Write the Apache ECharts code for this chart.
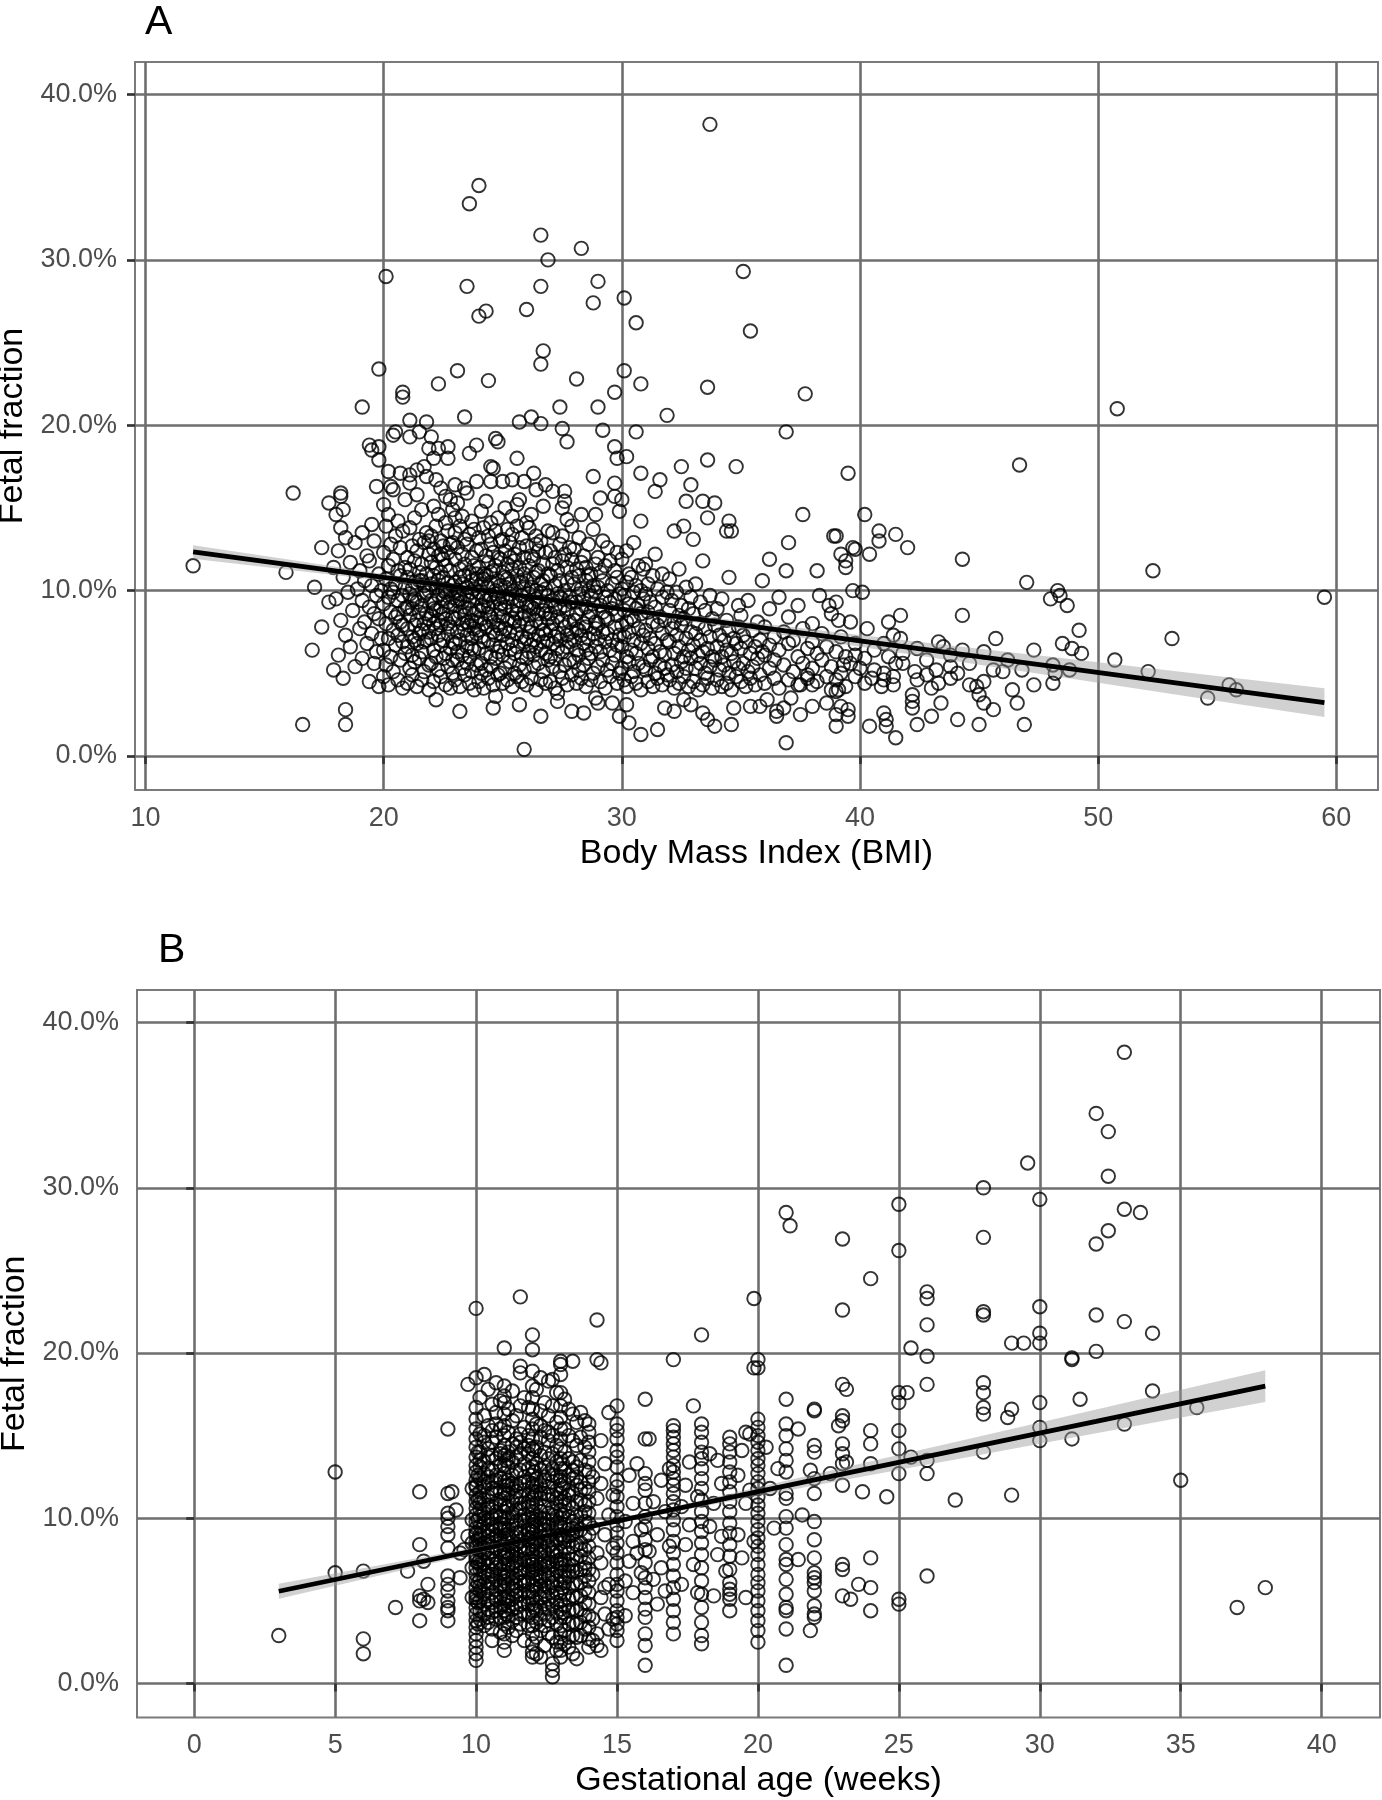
<!DOCTYPE html>
<html><head><meta charset="utf-8">
<script src="https://cdn.jsdelivr.net/npm/echarts@6/dist/echarts.min.js"></script>
<style>html,body{margin:0;padding:0;background:#fff}#c{width:1382px;height:1800px}</style>
</head><body><div id="c"></div>
<script>
// ---------- tick labels ----------
const bmiTicks = [10, 20, 30, 40, 50, 60];
const gaTicks = [0, 5, 10, 15, 20, 25, 30, 35, 40];
const ffTicks = [0, 10, 20, 30, 40];

// ---------- Panel A: BMI vs fetal fraction (%) ----------
// [BMI, [fetal fraction values at that BMI]]
const bmiGroups = [
[17.1,[10.2]],[17.4,[7.8,12.6]],[17.7,[9.3]],[17.9,[5.2,11.4]],
[18.0,[9.5]],[18.1,[6.1,12.4]],[18.2,[8.2]],[18.3,[10.8,4.7]],[18.4,[7.3,13.2]],[18.5,[9.9]],[18.6,[11.7,6.6]],[18.7,[8.8]],[18.8,[12.9,5.4]],[18.9,[10.1]],
[19.0,[7.7,11.2]],[19.1,[9.4,5.9,13.5]],[19.2,[10.6,8.1]],[19.3,[6.8,12.1]],[19.4,[9.0,4.5,11.8]],[19.5,[7.4,10.3]],[19.6,[8.6,13.0,5.6]],[19.7,[9.7,6.3]],[19.8,[11.0,8.3,4.2]],[19.9,[10.0,7.1]],
[20.0,[9.2,6.4,12.3,4.8,15.2]],[20.1,[8.0,10.7,5.5,13.9]],[20.2,[7.1,11.5,9.6,4.3,14.6]],[20.3,[8.7,6.0,12.8,10.1]],[20.4,[9.9,7.6,5.1,11.9,16.1]],[20.5,[8.4,13.3,6.7,10.4]],[20.6,[7.3,9.4,11.2,4.6,14.2]],[20.7,[10.9,8.1,5.8,12.6]],[20.8,[6.9,9.7,13.6,7.9,4.1]],[20.9,[11.4,8.9,6.2,10.2,15.5]],
[21.0,[9.0,6.6,12.0,4.4,10.8,7.7]],[21.1,[8.5,11.3,5.3,13.8,9.8,16.5]],[21.2,[7.2,10.1,6.1,12.7,8.9,4.9]],[21.3,[9.5,11.8,7.9,14.4,5.7,10.5]],[21.4,[8.2,6.8,12.4,9.3,4.2,15.8]],[21.5,[10.6,7.4,13.1,8.7,5.9,11.1]],[21.6,[9.1,6.3,11.6,7.6,14.9,4.6]],[21.7,[10.3,8.0,12.9,5.1,9.7,6.9]],[21.8,[8.6,11.0,7.0,13.5,9.9,16.9]],[21.9,[7.5,10.0,5.5,12.2,8.3,4.0]],
[22.0,[9.4,7.1,11.7,5.6,13.3,8.5,10.4]],[22.1,[8.0,12.5,6.4,10.9,4.5,15.1,9.2]],[22.2,[7.7,10.2,13.9,6.0,11.4,8.8,3.4]],[22.3,[9.7,5.2,12.1,7.3,10.6,14.6,8.2]],[22.4,[11.1,6.7,9.0,13.0,4.8,7.9,16.2]],[22.5,[8.6,10.8,5.9,12.7,9.5,7.0,11.9]],[22.6,[10.1,6.2,8.3,14.1,4.3,11.5,9.9]],[22.7,[7.4,12.3,9.3,5.4,10.5,13.6,8.0]],[22.8,[9.0,6.5,11.2,7.8,15.5,10.0,4.1]],[22.9,[8.4,12.9,6.9,10.3,5.0,9.6,14.9]],
[23.0,[9.1,6.8,11.9,4.6,13.5,8.3,10.5]],[23.1,[7.5,10.0,12.6,5.8,9.4,15.3,6.3]],[23.2,[8.7,11.3,4.2,13.9,7.0,10.8,9.8]],[23.3,[6.1,9.3,12.2,8.0,5.3,14.5,10.4]],[23.4,[10.9,7.6,9.0,13.1,4.9,11.6,8.5]],[23.5,[6.6,12.8,9.7,7.3,10.2,5.6,15.9]],[23.6,[8.9,11.1,6.0,13.4,9.4,4.4,7.9]],[23.7,[10.6,7.1,12.0,8.2,5.1,14.2,9.9]],[23.8,[6.4,11.5,8.6,10.1,13.7,4.0,7.7]],[23.9,[9.5,12.4,7.4,5.5,10.7,8.1,16.6]],
[24.0,[8.8,6.5,11.4,4.5,13.2,9.9,7.6]],[24.1,[10.4,7.2,12.5,5.6,9.1,14.8,8.3]],[24.2,[6.9,11.0,9.6,4.1,13.8,8.0,10.7]],[24.3,[7.8,12.1,5.2,9.4,10.9,6.2,15.4]],[24.4,[9.0,11.7,7.0,13.3,4.7,8.6,10.2]],[24.5,[6.0,10.5,8.4,12.8,5.4,9.7,14.1]],[24.6,[11.2,7.5,9.3,4.3,12.3,8.1,6.7]],[24.7,[10.0,13.6,7.3,5.9,9.8,11.5,3.6]],[24.8,[8.5,6.3,12.0,10.6,4.9,14.4,7.9]],[24.9,[9.2,11.9,6.6,8.9,13.0,5.0,10.3]],
[25.0,[8.4,6.1,11.1,9.6,4.4,13.1,7.3]],[25.1,[10.2,7.7,12.4,5.3,9.0,15.0]],[25.2,[6.8,9.3,11.6,4.6,8.2,13.7,10.7]],[25.3,[7.5,12.9,5.7,9.8,10.4,6.4]],[25.4,[8.8,11.3,4.2,13.4,7.0,9.5,14.5]],[25.5,[6.2,10.0,8.1,12.2,5.0,11.8]],[25.6,[9.1,7.4,13.9,4.8,10.9,8.6,6.6]],[25.7,[11.4,7.9,9.4,5.5,12.6,3.1]],[25.8,[8.3,10.5,6.0,13.2,9.7,4.5,7.2]],[25.9,[10.1,6.9,12.0,8.7,5.2,11.0,0.4]],
[26.0,[8.0,10.6,5.9,12.7,9.2,4.3,7.1]],[26.1,[9.8,7.5,11.5,6.3,13.8,8.5]],[26.2,[6.7,10.2,4.7,9.0,12.1,7.8,14.6]],[26.3,[8.9,11.9,5.4,10.8,7.0,6.1]],[26.4,[9.5,12.8,4.0,8.2,10.0,13.3,6.6]],[26.5,[7.3,11.2,5.6,9.3,8.6,12.4]],[26.6,[10.4,6.4,8.0,13.0,4.6,9.9,2.4]],[26.7,[7.6,11.6,5.1,10.6,8.8,6.9]],[26.8,[9.1,12.3,6.2,4.4,10.1,7.4]],[26.9,[8.3,11.0,5.8,13.6,9.7,7.0]],
[27.0,[8.6,6.0,10.9,4.5,12.4,7.6]],[27.1,[9.4,11.6,5.4,8.0,13.5,6.8]],[27.2,[7.2,10.3,4.1,9.0,12.0,5.9]],[27.3,[8.4,11.2,6.5,9.8,3.8,7.4]],[27.4,[10.6,5.1,8.9,12.8,7.0]],[27.5,[6.3,9.5,11.8,4.7,8.2,13.3]],[27.6,[7.8,10.0,5.5,12.2,9.1]],[27.7,[8.7,6.6,11.4,4.3,10.5,7.3]],[27.8,[9.6,12.6,5.8,8.1,6.9]],[27.9,[7.5,10.8,4.9,9.3,11.9,2.7]],
[28.0,[8.2,5.7,10.4,12.5,7.0]],[28.1,[9.3,6.4,11.3,4.4,8.6]],[28.2,[7.6,10.9,5.2,9.8,13.2,6.1]],[28.3,[8.9,11.7,4.7,7.3,10.1]],[28.4,[6.8,9.5,12.1,5.5,8.0]],[28.5,[10.6,7.8,4.2,9.0,11.4,6.4]],[28.6,[8.4,12.8,5.9,10.0,7.1]],[28.7,[9.7,6.2,11.0,4.6,8.7]],[28.8,[7.4,10.3,5.0,9.2,13.7]],[28.9,[8.1,11.6,6.6,3.5,9.9,7.7]],
[29.0,[8.0,5.4,10.2,7.1,12.0]],[29.1,[9.1,6.3,11.1,4.5]],[29.2,[7.5,10.6,5.8,8.7,13.0]],[29.3,[9.6,6.9,4.1,11.5]],[29.4,[8.3,10.0,5.2,7.4,12.6]],[29.5,[6.4,9.3,11.8,4.8]],[29.6,[8.9,7.0,10.4,5.6,3.2]],[29.7,[7.8,11.2,6.1,9.5]],[29.8,[8.5,4.4,10.8,6.7,12.3]],[29.9,[9.8,7.3,5.0,2.4]],
[30.0,[7.9,5.3,10.1,6.6,11.9]],[30.1,[8.8,4.6,9.7,7.2]],[30.2,[6.0,10.5,8.1,4.2,12.4]],[30.3,[7.5,9.2,5.7,11.0]],[30.4,[8.4,6.4,10.8,4.8]],[30.5,[7.0,9.9,5.1,12.9,8.2]],[30.6,[6.2,8.9,4.4,10.3]],[30.7,[7.7,11.5,5.6,9.1]],[30.8,[6.8,8.6,4.0,1.3,10.0]],[30.9,[7.3,9.5,5.4,11.3]],
[31.0,[7.6,5.2,9.8,11.6]],[31.1,[6.5,8.7,4.5,10.4]],[31.2,[7.1,9.3,5.8]],[31.3,[8.1,6.0,10.9,4.2]],[31.4,[6.8,9.0,5.0,12.2]],[31.5,[7.9,4.7,1.6,10.1]],[31.6,[6.3,8.4,5.5]],[31.7,[7.4,9.6,4.3,11.0]],[31.8,[6.1,8.2,5.3,2.9]],[31.9,[7.0,9.9,4.9]],
[32.0,[6.9,4.6,8.8,10.7]],[32.1,[7.7,5.5,9.4]],[32.2,[6.2,4.1,8.1,2.7]],[32.3,[7.3,9.9,5.1]],[32.4,[6.6,8.5,4.4,11.3]],[32.5,[7.9,5.7,9.1]],[32.6,[6.0,4.8,8.3,3.4]],[32.7,[7.1,10.2,5.3]],[32.8,[6.4,8.9,4.2]],[32.9,[7.5,5.9,9.6]],
[33.0,[6.7,4.5,8.6]],[33.1,[7.4,5.3,10.4]],[33.2,[6.1,8.0,4.0]],[33.3,[7.0,5.6,9.3]],[33.4,[6.3,4.3,11.8]],[33.5,[7.7,5.0,8.8]],[33.6,[6.5,4.7,2.2]],[33.7,[7.2,9.7,5.4]],[33.8,[6.0,8.3,4.1]],[33.9,[7.9,5.8,1.8]],
[34.0,[6.6,4.6,8.9]],[34.1,[7.3,5.2]],[34.2,[6.0,9.5,4.2]],[34.3,[7.0,5.5]],[34.4,[6.4,4.4,8.2]],[34.5,[7.6,5.0,10.8]],[34.6,[6.2,4.0]],[34.7,[7.1,5.7,2.9]],[34.8,[6.8,4.8]],[34.9,[7.8,5.3,9.1]],
[35.0,[6.5,4.5,8.5]],[35.1,[5.6,7.3]],[35.2,[4.2,6.9]],[35.3,[5.1,9.4]],[35.4,[6.2,4.7,3.0]],[35.5,[7.6,5.4]],[35.6,[4.3,6.6]],[35.7,[5.9,8.1]],[35.8,[4.9,7.0]],[35.9,[6.3,10.6]],
[36.0,[6.1,4.4,7.8]],[36.2,[5.3,8.9,6.7]],[36.4,[4.7,7.2,5.8]],[36.6,[6.4,9.6,4.1]],[36.8,[5.5,7.5]],[37.0,[6.8,4.6,8.4]],[37.2,[5.1,7.0]],[37.4,[6.0,9.1,4.3]],[37.6,[5.6,7.7]],[37.8,[6.5,4.9]],
[38.0,[5.3,8.0,6.9]],[38.2,[4.5,6.2]],[38.4,[5.8,7.4]],[38.6,[4.8,6.6]],[38.8,[5.4,8.6]],[39.0,[6.3,4.6]],[39.2,[5.0,7.2]],[39.4,[6.0,4.2]],[39.6,[5.6,8.1]],[39.8,[4.8,6.8]],
[40.2,[5.9,4.4]],[40.6,[6.4,5.2]],[41.0,[6.8,5.0]],[41.4,[7.3,4.8]],[41.8,[5.6,6.2]],[42.4,[6.5,4.6]],[42.8,[5.8]],[43.3,[6.9]],[43.8,[4.7,6.1]],[44.6,[5.6]],[45.2,[6.3,4.5]]
];
// individually read points [BMI, fetal fraction]
const bmiPoints = [
[12.0,11.5],[15.9,11.1],[16.2,15.9],[16.6,1.9],[17.0,6.4],[18.4,2.8],[18.4,1.9],
[33.7,38.2],[24.0,34.5],[23.6,33.4],[26.6,31.5],[28.3,30.7],[26.9,30.0],[20.1,29.0],[35.1,29.3],[23.5,28.4],[26.6,28.4],[29.0,28.7],[28.8,27.4],[24.3,26.9],[24.0,26.6],[26.0,27.0],[30.1,27.7],[30.6,26.2],[35.4,25.7],[26.7,24.5],[26.6,23.7],[19.8,23.4],[23.1,23.3],[30.1,23.3],[22.3,22.5],[24.4,22.7],[28.1,22.8],[30.8,22.5],[29.7,22.0],[33.6,22.3],[37.7,21.9],[20.8,22.0],[20.8,21.7],[19.1,21.1],[27.4,21.1],[29.0,21.1],[31.9,20.6],[21.1,20.3],[21.8,20.2],[23.4,20.5],[26.2,20.5],[25.7,20.2],[26.6,20.1],[27.5,19.8],[29.2,19.7],[30.6,19.6],[36.9,19.6],[27.7,19.0],[21.1,19.3],[20.4,19.4],[20.5,19.6],[21.5,19.6],[22.0,19.3],[19.4,18.8],[19.8,18.7],[19.5,18.5],[19.8,17.9],[21.9,18.6],[22.3,18.6],[22.7,18.7],[22.1,18.0],[22.7,18.0],[23.6,18.3],[23.9,18.8],[24.7,19.2],[24.8,19.0],[25.6,18.0],[29.7,18.7],[29.8,18.0],[30.2,18.1],[33.6,17.9],[34.8,17.5],[32.5,17.5],[39.5,17.1],[30.8,17.1],[31.6,16.7],[32.9,16.4],[31.4,16.0],[32.7,15.4],[33.4,15.4],[33.9,15.3],[33.6,14.4],[34.5,14.2],[34.4,13.6],[34.6,13.6],[37.6,14.6],[40.2,14.6],[30.8,14.2],[32.6,13.9],[32.2,13.6],[33.0,13.1],[38.9,13.3],[40.8,13.6],
[17.7,15.3],[18.2,15.9],[18.2,15.7],[18.3,14.9],[18.0,14.6],[18.2,13.8],[19.5,14.0],[19.7,16.3],[20.3,16.3],[20.2,17.2],[20.7,17.1],[21.1,17.0],[21.4,17.3],[21.7,17.5],[22.2,16.7],[23.0,16.4],[24.5,16.6],[24.5,17.5],[24.6,17.4],[25.0,16.6],[25.4,16.7],[25.9,16.6],[26.3,17.1],[26.4,16.1],[26.8,16.4],[27.1,16.0],[25.7,15.5],[28.8,16.9],[29.7,16.5],[27.6,16.0],[29.1,15.6],[29.7,15.7],[30.0,15.5],[29.9,14.8],[28.9,14.6],[28.3,14.6],[27.6,15.4],[27.5,15.0],[26.7,15.1],[27.7,14.3],
[50.8,21.0],[46.7,17.6],[39.0,13.3],[41.5,13.4],[40.8,13.0],[42.0,12.6],[39.7,12.6],[39.8,12.5],[37.0,12.9],[40.4,12.2],[39.2,12.2],[39.4,11.8],[39.4,11.4],[44.3,11.9],[36.2,11.9],[36.9,11.2],[38.2,11.2],[52.3,11.2],[47.0,10.5],[48.3,10.0],[48.4,9.7],[48.0,9.5],[48.7,9.1],[39.7,10.0],[40.1,9.9],[38.3,9.7],[39.0,9.3],[38.7,9.1],[44.3,8.5],[41.7,8.5],[41.2,8.1],[39.1,8.2],[59.5,9.6],[49.2,7.6],[40.3,7.7],[53.1,7.1],[45.7,7.1],[47.3,6.4],[48.5,6.8],[48.9,6.5],[49.3,6.2],[41.7,7.1],[43.5,6.6],[44.3,6.4],[46.2,5.8],[50.7,5.8],[52.1,5.1],[48.1,5.5],[48.2,5.0],[48.8,5.2],[45.6,5.2],[46.0,5.1],[46.8,5.2],[46.4,4.0],[47.3,4.3],[48.1,4.4],[46.6,3.2],[46.9,1.9],[54.6,3.5],[55.5,4.3],[55.8,4.0],[45.0,1.9],[44.1,2.2],[43.0,2.4],[42.4,1.9],[43.4,3.2],[43.8,5.4],[44.1,5.0],[44.6,4.3],[44.9,4.2],[45.0,3.7],[45.2,3.2],[45.6,2.8],[43.2,5.2],[43.3,4.4],[43.0,4.1],[42.8,4.9],[42.3,5.1],[42.2,3.7],[42.2,3.3],[42.2,2.9],[41.5,1.1],[41.1,2.2],[41.1,1.8],[41.0,2.6],[40.4,1.8],[39.0,1.8],[37.5,2.5],[36.9,0.8],[41.5,5.6],[41.2,6.0],[41.4,4.3],[41.0,4.6],[40.5,4.7],[40.9,4.2],[40.0,5.3],[39.8,6.1],[39.3,5.5],[39.5,2.8],[39.2,3.0],[39.0,2.5],[39.5,2.4],[38.6,3.2],[38.0,3.0],[37.5,4.3],[39.0,3.9],[39.1,4.0],[38.0,4.3],[38.8,4.0],[37.8,4.7],[36.5,2.7],[36.8,2.9],[36.1,3.4],[37.1,3.5],
[23.2,2.7],[24.6,2.9],[27.3,3.3],[28.4,2.6],[29.0,3.2],[30.2,3.1],[30.3,2.0],[32.9,3.1],[33.4,2.6],[34.6,1.9],[35.8,3.0],[36.5,2.4],
[21.2,9.4],[21.6,10.6],[22.1,8.9],[22.5,10.0],[22.8,12.8],[23.2,9.5],[23.5,8.1],[23.9,11.0],[24.2,9.0],[24.5,11.1],[24.8,9.5],[25.1,10.8],[25.4,8.3],[25.7,10.5],[26.1,9.1],[26.4,11.1],[26.8,8.6],[22.4,12.2],[23.7,6.5],[24.9,7.7],[21.9,13.0],[22.9,5.8],[25.3,12.0],[20.6,8.6],[21.3,7.0],[23.0,14.4],[24.1,5.0],[26.0,14.1],[27.4,9.6],[28.1,7.7],[28.6,10.9],[29.3,8.4],[27.9,13.9],[25.6,15.2],[22.6,15.7],[23.4,16.2]
];
// linear fit with 95% band: [BMI, fit, lower, upper]
const fitA = [[12.0,12.34,11.93,12.75],[16,11.57,11.26,11.88],[20,10.80,10.59,11.01],[24,10.04,9.91,10.17],[27,9.46,9.36,9.56],[31,8.69,8.54,8.84],[35,7.92,7.68,8.16],[40,6.96,6.60,7.32],[45,6.00,5.51,6.49],[48,5.43,4.86,6.00],[52,4.66,3.99,5.33],[56,3.89,3.11,4.67],[59.5,3.22,2.35,4.09]];

// ---------- Panel B: gestational age vs fetal fraction (%) ----------
// [gestational age (weeks), [fetal fraction values]]
const gaGroups = [
[3.0,[2.9]],[5.0,[12.8,6.7]],[6.0,[6.8,2.7,1.8]],[7.14,[4.6]],[7.57,[6.8]],
[8.0,[11.6,8.4,5.3,5.0,3.8]],[8.14,[7.4,5.1]],[8.29,[6.0,4.9]],
[9.0,[15.4,11.5,10.3,10.0,9.5,9.0,8.2,6.5,6.0,5.6,5.0,4.6,4.4,3.8]],[9.14,[11.6]],[9.29,[10.5]],[9.43,[7.9,6.4]],[9.57,[8.1]],[9.71,[18.1,8.9]],[9.86,[11.8,9.9,8.5,7.0,5.2]],
[10.0,[22.7,18.5,16.7,16.0,15.4,14.8,14.3,13.7,13.2,12.8,12.3,11.9,11.4,11.0,10.6,10.2,9.8,9.4,9.0,8.6,8.2,7.8,7.4,7.0,6.6,6.2,5.8,5.4,5.0,4.6,4.2,3.8,3.4,3.0,2.6,2.2,1.8,1.4,12.0,9.1,7.6,5.2]],
[10.07,[14.0,12.6,11.1,9.9,8.7,7.3,6.1,4.9,3.6]],
[10.14,[17.3,15.1,14.0,13.1,12.4,11.6,10.9,10.1,9.5,8.8,8.1,7.5,6.9,6.3,5.6,5.0,4.4,3.9,11.2,9.0,7.2,5.9,13.5,8.4,10.5]],
[10.29,[18.7,16.2,14.6,13.4,12.7,11.9,11.1,10.3,9.7,9.1,8.5,7.9,7.3,6.7,6.0,5.4,4.8,4.2,3.5,12.2,10.0,8.2,6.4,15.0]],
[10.43,[17.8,15.6,14.2,13.0,12.1,11.3,10.6,9.9,9.2,8.6,7.9,7.1,6.5,5.8,5.1,4.5,3.7,12.5,10.8,8.9,7.6,6.1,13.7,4.0]],
[10.57,[16.9,15.3,13.8,12.9,12.2,11.5,10.7,10.0,9.3,8.7,8.0,7.4,6.8,6.1,5.5,4.9,4.3,3.3,11.8,9.6,8.3,6.6,14.6,2.6]],
[10.71,[18.2,16.4,14.9,13.6,12.6,11.7,10.9,10.2,9.5,8.9,8.2,7.6,7.0,6.3,5.7,5.1,4.4,3.9,12.3,10.4,9.0,7.2,5.3,15.7]],
[10.86,[17.1,15.4,14.1,13.2,12.4,11.6,10.8,10.1,9.4,8.8,8.1,7.3,6.6,5.9,5.2,4.6,4.0,3.1,11.1,9.7,8.5,6.9,13.9]],
[11.0,[20.3,18.0,17.4,17.0,16.3,15.6,15.0,14.4,13.8,13.2,12.7,12.2,11.7,11.2,10.8,10.4,10.0,9.6,9.2,8.8,8.4,8.0,7.6,7.2,6.8,6.4,6.0,5.6,5.2,4.8,4.4,4.0,3.6,3.0,2.5,2.0,11.5,9.4,7.8,6.2]],
[11.07,[13.5,12.0,10.6,9.0,7.7,6.5,5.1,4.2]],
[11.14,[16.6,15.2,14.0,13.1,12.3,11.5,10.7,10.0,9.3,8.6,7.9,7.2,6.6,6.0,5.3,4.7,4.1,3.4,12.0,9.0,7.5,5.0,13.6]],
[11.29,[17.7,15.9,14.5,13.4,12.6,11.8,11.0,10.3,9.6,8.9,8.3,7.7,7.0,6.4,5.7,5.1,4.5,3.8,2.9,12.1,10.1,8.0,6.1]],
[11.43,[16.2,14.8,13.7,12.8,12.0,11.2,10.5,9.8,9.1,8.4,7.8,7.1,6.5,5.9,5.3,4.6,4.0,3.2,11.6,9.4,7.4,5.6,14.3]],
[11.57,[23.4,19.2,18.8,16.8,15.1,13.9,12.9,12.1,11.3,10.6,9.9,9.2,8.6,8.0,7.3,6.7,6.1,5.4,4.8,4.2,3.6,10.9,8.3,6.9,14.6]],
[11.71,[17.3,15.5,14.2,13.3,12.5,11.7,10.9,10.2,9.5,8.9,8.2,7.5,6.9,6.2,5.6,4.9,4.3,2.6,12.2,9.8,7.9,6.0]],
[11.86,[16.7,15.0,13.9,13.0,12.2,11.4,10.7,10.0,9.3,8.7,8.1,7.4,6.8,6.1,5.5,4.8,4.1,3.5,11.0,9.1,7.1,5.2,14.4]],
[12.0,[21.1,20.2,18.9,18.0,17.3,16.6,16.0,15.4,14.8,14.2,13.6,13.1,12.6,12.1,11.6,11.2,10.8,10.4,10.0,9.6,9.2,8.8,8.4,8.0,7.6,7.2,6.8,6.4,6.0,5.6,5.2,4.8,4.4,4.0,3.5,3.0,2.4,1.9,1.6,11.9,9.4,7.4]],
[12.07,[14.1,12.8,11.4,9.8,8.6,7.0,5.9,4.6]],
[12.14,[17.8,15.7,14.3,13.3,12.4,11.6,10.9,10.2,9.5,8.8,8.2,7.6,6.9,6.3,5.7,5.0,4.4,3.7,2.8,12.0,9.9,8.5,6.6,1.8]],
[12.29,[18.5,16.5,14.9,13.8,12.9,12.0,11.2,10.4,9.7,9.1,8.4,7.8,7.2,6.5,5.9,5.2,4.6,3.9,3.2,11.5,10.0,8.0,6.2,15.6,1.6]],
[12.43,[17.0,15.3,14.0,13.1,12.3,11.5,10.7,10.0,9.3,8.6,8.0,7.4,6.7,6.0,5.4,4.8,4.2,3.5,2.3,12.5,9.6,7.1,5.6]],
[12.57,[18.3,16.2,14.7,13.6,12.7,11.9,11.1,10.3,9.6,8.9,8.3,7.6,7.0,6.4,5.8,5.1,4.5,3.8,3.0,11.4,9.0,7.3,15.2]],
[12.71,[18.4,16.8,15.0,13.9,13.0,12.2,11.4,10.6,9.9,9.2,8.5,7.9,7.2,6.6,5.9,5.3,4.7,4.0,2.8,12.6,10.2,8.1,6.1,1.2,0.8,0.4]],
[12.86,[17.6,15.8,14.4,13.4,12.5,11.7,10.9,10.1,9.4,8.7,8.0,7.4,6.8,6.2,5.5,4.9,4.3,3.6,2.5,11.2,9.7,7.7,2.0]],
[13.0,[19.5,19.3,18.7,17.6,16.8,16.1,15.4,14.8,14.2,13.6,13.0,12.5,12.0,11.5,11.0,10.5,10.0,9.5,9.0,8.5,8.0,7.5,7.0,6.5,6.0,5.5,5.0,4.5,4.0,3.5,3.0,2.5,2.0,1.6,12.3,9.7,7.3]],
[13.07,[13.3,11.8,10.2,8.8,7.2,5.8,4.3]],
[13.14,[17.2,15.4,14.0,13.0,12.1,11.2,10.4,9.6,8.9,8.2,7.5,6.8,6.1,5.4,4.7,4.0,3.2,2.4,10.8,8.6,6.4]],
[13.29,[16.6,15.0,13.6,12.6,11.7,10.9,10.1,9.3,8.6,7.9,7.2,6.5,5.8,5.1,4.4,3.6,2.8,2.2,11.4,8.9,6.8]],
[13.43,[19.5,16.3,14.7,13.4,12.4,11.5,10.6,9.8,9.0,8.3,7.5,6.8,6.0,5.3,4.5,3.7,2.9,12.9,9.4,7.1,1.8]],
[13.57,[15.8,14.4,13.1,12.0,11.0,10.1,9.2,8.4,7.6,6.8,6.0,5.2,4.4,3.6,2.8,12.5,9.6,1.5]],
[13.71,[16.4,14.9,13.5,12.2,11.1,10.2,9.3,8.5,7.7,6.9,6.1,5.3,4.5,3.7,2.9,11.7,8.1]],
[13.86,[15.9,14.3,12.9,11.8,10.8,9.8,8.9,8.1,7.3,6.5,5.7,4.9,4.1,3.3,10.4,7.0]],
[14.0,[15.7,15.2,14.6,14.0,13.4,12.8,12.2,11.6,11.0,10.3,9.7,9.0,8.3,7.6,6.9,6.2,5.5,4.8,4.1,3.4,2.7,2.2]],
[14.14,[12.5,9.4,6.6,3.9,2.6]],[14.29,[22.0,19.6,11.2,7.9,3.0,2.3]],[14.43,[19.4,14.7,12.1,7.3,5.2,2.0]],[14.57,[13.3,9.0,5.8,4.2]],[14.71,[16.4,10.2,6.0,3.3]],[14.86,[8.2,3.9,11.4]],
[15.0,[16.8,15.7,15.3,14.8,14.1,13.7,13.1,12.3,11.9,11.3,10.7,10.1,9.6,9.1,8.5,7.9,7.3,6.6,6.0,5.6,5.0,4.4,4.0,3.6,3.2,2.6]],
[15.29,[9.8,6.2,4.1]],[15.43,[12.6,7.4]],[15.57,[10.9,5.5,8.6]],[15.71,[7.9,13.3]],[15.86,[6.7,9.3]],
[16.0,[17.2,14.8,12.7,12.1,11.7,10.9,10.1,9.5,8.7,8.1,7.3,6.4,5.8,5.2,4.5,4.0,3.0,2.3,1.1]],
[16.14,[14.8,8.0]],[16.29,[11.0,6.3]],[16.43,[9.0,4.8]],[16.57,[12.3,7.0]],[16.71,[10.4,5.6]],[16.86,[8.3,13.0]],
[17.0,[19.6,15.6,15.3,14.9,14.5,14.1,13.7,13.2,12.8,12.4,12.0,11.5,11.0,10.5,9.9,9.3,8.6,7.9,7.2,6.5,5.8,5.1,4.4,3.7,3.0]],
[17.29,[10.7,6.0]],[17.43,[12.0,8.4]],[17.57,[9.6,13.4]],[17.71,[16.8,7.2]],[17.86,[11.3,5.5]],
[18.0,[21.1,15.7,15.2,14.6,14.0,13.6,13.0,12.4,11.8,11.1,10.4,9.8,9.2,8.5,7.8,7.0,6.2,5.4,4.6,3.7,2.9,2.4]],
[18.29,[13.9,9.5]],[18.43,[10.9,5.3]],[18.57,[13.5,7.8]],[18.71,[8.9,12.1]],[18.86,[6.8]],
[19.0,[14.9,14.5,14.0,13.4,12.8,12.2,11.6,11.0,10.4,9.7,9.1,8.4,7.7,6.9,6.1,5.7,5.4,5.1,4.4]],
[19.29,[12.6,9.0]],[19.43,[14.1,7.6]],[19.57,[15.2,5.2,10.9]],[19.71,[15.1,11.7]],[19.86,[23.3,19.1,8.6]],
[20.0,[19.6,19.1,16.0,15.5,15.0,14.6,14.1,13.6,13.2,12.7,12.2,11.8,11.3,10.8,10.3,9.8,9.3,8.8,8.3,7.8,7.2,6.6,6.1,5.6,5.0,4.4,3.8,3.2,2.5]],
[20.29,[14.3]],[20.43,[11.8]],[20.57,[9.4]],[20.71,[13.0]],
[21.0,[28.5,17.2,15.7,15.0,14.2,13.5,12.8,11.5,11.2,10.1,9.4,8.4,7.5,7.2,6.3,5.4,4.6,4.4,3.3,1.1]],
[21.14,[27.7]],[21.43,[15.4,7.5]],[21.57,[10.2]],[21.86,[3.2,12.9]],
[22.0,[16.6,16.5,14.4,14.0,12.4,11.5,9.8,8.7,7.6,6.7,6.4,6.1,5.6,4.7,4.2,4.0]],
[22.57,[12.7]],[22.86,[15.6]],
[23.0,[26.9,22.6,18.1,16.2,15.9,14.5,13.9,13.3,12.0,7.2,6.9,5.3]],
[23.14,[17.8,13.4]],[23.29,[5.1]],[23.57,[6.0]],[23.71,[11.6]],
[24.0,[24.5,15.3,14.5,13.3,7.6,5.8,4.4]],[24.57,[11.3]],
[25.0,[29.0,26.2,17.6,17.0,15.3,14.2,12.7,5.1,4.8]],[25.29,[17.6]],[25.43,[20.3,13.7]],
[26.0,[23.7,23.3,21.7,19.8,18.1,13.5,12.7,6.5]],[27.0,[11.1]],
[28.0,[30.0,27.0,22.5,22.3,18.2,17.6,16.7,16.3,14.0]],[28.86,[16.1]],
[29.0,[20.6,16.6,11.4]],[29.43,[20.6]],[29.57,[31.5]],
[30.0,[29.3,22.8,21.2,20.6,17.0,15.5,14.7]],[31.14,[19.7,19.6,14.8]],[31.43,[17.2]],
[32.0,[34.5,26.6,22.3,20.1]],[32.43,[33.4,30.7,27.4]],[33.0,[38.2,28.7,21.9,15.7]],[33.57,[28.5]],
[34.0,[21.2,17.7]],[35.0,[12.3]],[35.57,[16.7]],[37.0,[4.6]],[38.0,[5.8]]
];
// linear fit with 95% band: [GA, fit, lower, upper]
const fitB = [[3,5.58,5.13,6.03],[8,7.35,7.09,7.61],[12,8.77,8.64,8.90],[14,9.48,9.37,9.59],[17,10.54,10.38,10.70],[22,12.32,11.98,12.66],[27,14.09,13.56,14.62],[32,15.86,15.14,16.58],[38,17.99,17.03,18.95]];

// ---------- build chart ----------
function expand(groups) {
  const out = [];
  groups.forEach(g => g[1].forEach(v => out.push([g[0], v])));
  return out;
}
const FONT = '"Liberation Sans", Arial, Helvetica, sans-serif';
const GRID_LINE = { show: true, lineStyle: { color: '#6e6e6e', width: 2.6 } };

function xAxisDef(gi, min, max, ticks, name, gap) {
  return {
    type: 'value', gridIndex: gi, min: min, max: max,
    name: name, nameLocation: 'middle', nameGap: gap,
    nameTextStyle: { fontFamily: FONT, fontSize: 34, color: '#000' },
    axisLine: { show: false },
    axisTick: { show: true, length: 8, customValues: ticks, lineStyle: { color: '#333', width: 2.7 } },
    axisLabel: { customValues: ticks, margin: 15, fontFamily: FONT, fontSize: 27, color: '#4d4d4d' },
    splitLine: GRID_LINE
  };
}
function yAxisDef(gi) {
  return {
    type: 'value', gridIndex: gi, min: -2.06, max: 41.97,
    name: 'Fetal fraction', nameLocation: 'middle', nameGap: 98,
    nameTextStyle: { fontFamily: FONT, fontSize: 34, color: '#000' },
    axisLine: { show: false },
    axisTick: { show: true, length: 8, customValues: ffTicks, lineStyle: { color: '#333', width: 2.7 } },
    axisLabel: { customValues: ffTicks, margin: 18, fontFamily: FONT, fontSize: 27, color: '#4d4d4d',
      formatter: v => v.toFixed(1) + '%' },
    splitLine: GRID_LINE
  };
}
function scatterDef(idx, data) {
  return {
    type: 'scatter', xAxisIndex: idx, yAxisIndex: idx, data: data,
    symbol: 'circle', symbolSize: 13.5, z: 2, large: false,
    itemStyle: { color: 'rgba(0,0,0,0)', borderColor: '#000', borderWidth: 1.9 },
    emphasis: { disabled: true }, silent: true
  };
}
function bandDef(idx, fit) {
  return {
    type: 'custom', xAxisIndex: idx, yAxisIndex: idx, z: 3, silent: true,
    data: fit.map(r => [r[0], r[1]]),
    renderItem: function (params, api) {
      if (params.dataIndex !== 0) return null;
      const pts = [];
      for (let i = 0; i < fit.length; i++) pts.push(api.coord([fit[i][0], fit[i][3]]));
      for (let i = fit.length - 1; i >= 0; i--) pts.push(api.coord([fit[i][0], fit[i][2]]));
      return { type: 'polygon', shape: { points: pts }, style: { fill: 'rgba(153,153,153,0.45)' } };
    }
  };
}
function lineDef(idx, fit) {
  return {
    type: 'line', xAxisIndex: idx, yAxisIndex: idx, z: 4, silent: true,
    data: fit.map(r => [r[0], r[1]]), symbol: 'none',
    lineStyle: { color: '#000', width: 4.8 }, emphasis: { disabled: true }
  };
}

const chart = echarts.init(document.getElementById('c'), null, { renderer: 'canvas' });
chart.setOption({
  animation: false,
  backgroundColor: '#fff',
  grid: [
    { left: 135, top: 62, width: 1243, height: 728, show: true, borderColor: '#7a7a7a', borderWidth: 2, backgroundColor: '#fff', containLabel: false, outerBoundsMode: 'none' },
    { left: 137, top: 990, width: 1243, height: 727.5, show: true, borderColor: '#7a7a7a', borderWidth: 2, backgroundColor: '#fff', containLabel: false, outerBoundsMode: 'none' }
  ],
  xAxis: [
    xAxisDef(0, 9.56, 61.75, bmiTicks, 'Body Mass Index (BMI)', 47),
    xAxisDef(1, -2.03, 42.07, gaTicks, 'Gestational age (weeks)', 46)
  ],
  yAxis: [yAxisDef(0), yAxisDef(1)],
  graphic: [
    { type: 'text', left: 145, top: 2, style: { text: 'A', font: '41px "Liberation Sans", Arial, sans-serif', fill: '#000' } },
    { type: 'text', left: 158, top: 930, style: { text: 'B', font: '41px "Liberation Sans", Arial, sans-serif', fill: '#000' } }
  ],
  series: [
    scatterDef(0, expand(bmiGroups).concat(bmiPoints)),
    bandDef(0, fitA),
    lineDef(0, fitA),
    scatterDef(1, expand(gaGroups)),
    bandDef(1, fitB),
    lineDef(1, fitB)
  ]
});
</script>
</body></html>
